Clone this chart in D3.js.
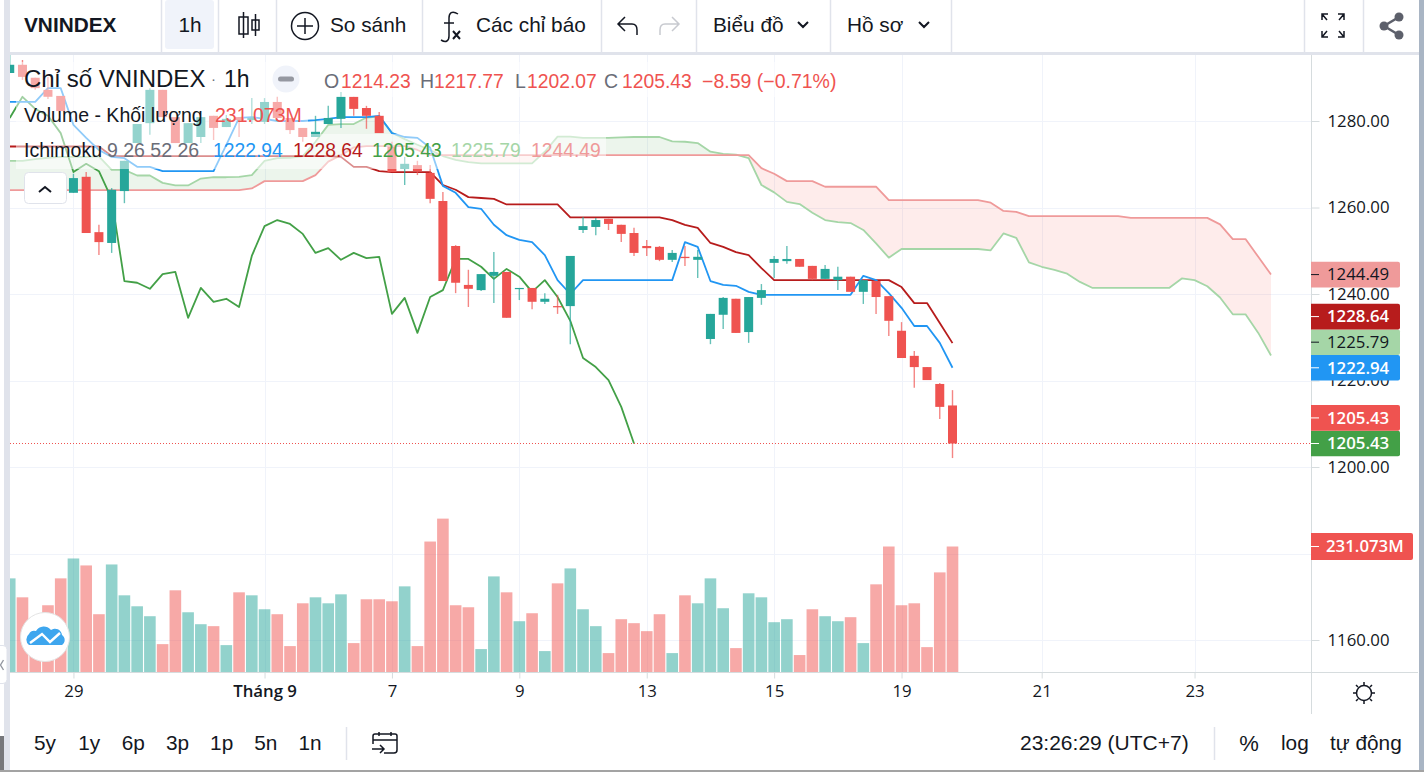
<!DOCTYPE html>
<html>
<head>
<meta charset="utf-8">
<style>
  html, body { margin: 0; padding: 0; background: #fff; overflow: hidden; }
  text { font-family: "Liberation Sans", Arial, sans-serif; }
  .axis text { font-family: "Open Sans", sans-serif; fill: #131722; }
</style>
<script src="https://cdn.jsdelivr.net/npm/d3@7"></script>
</head>
<body>
<script>
// candles, one per hour bar
var opens = [1291.1,1293.0,1290.0,1287.2,1285.8,1263.4,1267.1,1254.3,1251.8,1263.8,
  1274.9,1279.5,1287.2,1280.9,1274.9,1276.3,1281.2,1278.6,1280.9,1280.2,
  1279.8,1284.4,1280.7,1278.4,1276.3,1279.3,1280.5,1285.6,1283.0,1281.2,
  1274.0,1268.9,1269.8,1268.0,1261.5,1251.1,1242.1,1240.9,1244.2,1245.1,
  1241.2,1241.4,1238.2,1237.2,1237.2,1254.8,1255.5,1257.4,1256.0,1254.1,
  1251.1,1250.9,1247.9,1248.6,1247.9,1229.6,1235.2,1238.9,1231.2,1239.1,
  1247.2,1247.6,1248.1,1246.5,1243.5,1243.2,1244.0,1240.5,1243.0,1239.5,
  1231.5,1225.7,1223.1,1219.2,1214.23];
var highs = [1295.3,1294.1,1290.0,1290.2,1285.8,1267.8,1268.2,1256.0,1264.5,1270.8,
  1279.3,1287.6,1287.2,1280.9,1279.5,1280.9,1281.2,1281.4,1280.9,1285.3,
  1285.3,1285.6,1280.7,1278.4,1281.2,1283.5,1286.7,1285.6,1283.5,1282.1,
  1275.2,1271.7,1270.8,1269.8,1263.6,1251.3,1245.6,1244.6,1249.7,1245.1,
  1241.4,1241.4,1240.2,1239.8,1248.8,1257.8,1257.6,1257.4,1256.0,1255.3,
  1252.5,1251.1,1250.2,1251.1,1250.2,1235.4,1239.3,1238.9,1239.3,1242.3,
  1248.8,1251.1,1248.1,1246.5,1246.7,1246.3,1244.0,1243.2,1243.0,1239.5,
  1233.5,1226.8,1223.1,1219.4,1217.77];
var lows = [1291.1,1289.5,1287.2,1285.1,1282.3,1263.4,1254.1,1249.0,1249.5,1261.0,
  1274.9,1276.8,1280.9,1274.9,1274.9,1274.9,1275.6,1278.6,1276.3,1279.3,
  1279.3,1280.7,1277.0,1275.2,1276.3,1279.3,1278.4,1281.2,1278.2,1277.2,
  1268.2,1265.2,1267.5,1261.0,1243.0,1240.2,1237.0,1240.7,1237.9,1234.5,
  1238.6,1236.5,1237.7,1235.4,1228.4,1254.1,1253.6,1254.8,1252.0,1248.8,
  1248.8,1247.6,1247.4,1246.5,1243.7,1228.4,1231.9,1231.0,1228.7,1237.5,
  1243.7,1247.0,1246.3,1243.2,1243.5,1240.9,1240.5,1237.7,1235.4,1230.3,
  1225.2,1218.3,1220.1,1211.1,1202.07];
var closes = [1293.0,1290.2,1287.6,1285.6,1282.3,1266.8,1254.1,1252.0,1264.1,1270.8,
  1279.3,1287.2,1280.9,1274.9,1279.5,1280.9,1278.4,1280.5,1280.2,1280.7,
  1284.4,1280.7,1277.9,1276.3,1277.5,1280.7,1285.6,1282.8,1281.2,1277.2,
  1268.2,1270.1,1268.4,1262.0,1243.0,1242.6,1241.2,1244.6,1245.1,1234.5,
  1241.4,1238.2,1238.9,1237.0,1248.8,1255.7,1257.1,1256.2,1253.9,1249.5,
  1250.6,1247.9,1249.5,1248.3,1248.6,1235.4,1239.1,1231.0,1239.3,1240.9,
  1248.1,1248.1,1246.3,1243.5,1245.8,1244.0,1240.5,1243.2,1239.3,1233.8,
  1225.2,1223.1,1220.1,1213.9,1205.43];
// volume in millions
var volumes = [172.4,137.5,89,122.9,172.4,209,196.2,106.4,198,141.2,
  121,102.7,51.3,150.4,110,88,84.4,49.5,146.7,141.2,
  115.5,106.4,47.7,126.5,137.5,126.5,143,53.2,133.9,133.9,
  130.2,157.7,47.7,240.2,282.4,122.9,119.2,42.2,176,146.7,
  93.5,108.2,38.5,163.2,190.7,115.5,84.4,34.8,97.2,89.9,
  75.2,106.4,34.8,141.2,126.5,172.4,117.4,44,144.9,137.5,
  91.7,97.2,31.2,115.5,102.7,93.5,100.9,53.2,161.4,231.07,
  122.9,126.5,45.8,183.4,231.07];
// ichimoku lines
var tenkan = [1284.4,1284.4,1284.4,1287.6,1287.6,1279.1,1276.1,1273.3,1271.7,1271.4,
  1269.4,1269.4,1268.4,1268.4,1268.4,1268.4,1268.4,1274.5,1280.7,1280.9,
  1280.5,1280.0,1280.0,1280.0,1280.2,1280.5,1280.9,1280.9,1280.9,1281.2,
  1277.2,1276.3,1276.1,1273.8,1265.0,1263.4,1260.1,1259.7,1256.0,1253.6,
  1252.5,1252.0,1249.0,1243.2,1240.0,1243.2,1243.2,1243.2,1243.2,1243.2,
  1243.2,1243.2,1243.2,1252.0,1250.9,1243.0,1242.1,1241.9,1240.5,1239.8,
  1239.8,1239.8,1239.8,1239.8,1239.8,1239.8,1239.8,1244.2,1243.2,1240.2,
  1236.8,1232.6,1232.6,1228.7,1222.94];
var kijun = [1274.1,1274.1,1274.1,1274.1,1274.1,1274.1,1274.1,1274.1,1271.9,1271.9,
  1271.9,1271.9,1271.9,1271.9,1271.9,1271.9,1271.9,1271.9,1271.9,1271.9,
  1271.9,1271.9,1271.9,1271.9,1271.9,1271.9,1271.7,1269.4,1269.4,1268.4,
  1268.2,1268.2,1268.2,1268.2,1265.2,1264.1,1262.4,1262.2,1262.0,1260.7,
  1260.7,1260.7,1260.7,1260.7,1257.7,1257.7,1257.7,1257.7,1257.7,1257.7,
  1257.7,1257.7,1257.1,1256.0,1255.3,1251.8,1250.9,1249.7,1249.0,1246.0,
  1243.2,1243.2,1243.2,1243.2,1243.2,1243.2,1243.2,1243.2,1243.2,1243.2,
  1241.6,1237.9,1237.9,1233.3,1228.64];
var chikou = [1280.7,1285.6,1282.8,1281.2,1277.2,1268.2,1270.1,1268.4,1262.0,1243.0,
  1242.6,1241.2,1244.6,1245.1,1234.5,1241.4,1238.2,1238.9,1237.0,1248.8,
  1255.7,1257.1,1256.2,1253.9,1249.5,1250.6,1247.9,1249.5,1248.3,1248.6,
  1235.4,1239.1,1231.0,1239.3,1240.9,1248.1,1248.1,1246.3,1243.5,1245.8,
  1244.0,1240.5,1243.2,1239.3,1233.8,1225.2,1223.1,1220.1,1213.9,1205.43];
var senkouA = [1270.8,1270.8,1271.2,1271.5,1271.7,1271.7,1271.7,1271.8,1268.7,1268.7,
  1267.4,1267.4,1265.7,1265.1,1265.1,1266.7,1267.0,1267.0,1267.1,1267.5,
  1270.8,1271.4,1271.5,1271.9,1275.2,1279.1,1279.3,1279.3,1280.8,1281.0,
  1277.3,1275.8,1274.5,1273.3,1271.9,1271.0,1270.5,1270.2,1270.2,1270.2,
  1270.2,1270.2,1272.9,1276.4,1276.4,1276.1,1276.1,1276.1,1276.2,1276.3,
  1276.3,1276.3,1275.3,1275.2,1274.9,1272.9,1272.4,1272.2,1271.4,1265.2,
  1263.5,1261.3,1260.8,1258.8,1257.1,1256.6,1256.4,1254.8,1251.7,1248.4,
  1250.4,1250.4,1250.4,1250.4,1250.4,1250.4,1250.4,1250.1,1254.0,1253.0,
  1247.3,1246.3,1245.6,1244.7,1242.8,1241.4,1241.4,1241.4,1241.4,1241.4,
  1241.4,1241.4,1243.6,1243.2,1241.8,1239.2,1235.3,1235.3,1231.0,1225.79];
var senkouB = [1264.0,1264.0,1264.0,1264.0,1264.0,1264.0,1264.0,1264.0,1264.0,1264.0,
  1264.0,1264.0,1264.0,1264.0,1264.0,1264.0,1264.0,1264.0,1264.0,1264.4,
  1266.1,1266.1,1266.1,1266.1,1267.5,1270.6,1272.1,1273.9,1274.2,1274.2,
  1274.2,1274.2,1273.3,1272.1,1272.1,1272.1,1272.1,1272.1,1272.1,1272.1,
  1272.1,1272.1,1272.1,1272.1,1272.1,1272.1,1272.1,1272.1,1272.1,1272.1,
  1272.1,1272.1,1272.1,1272.1,1272.1,1272.1,1272.1,1272.1,1272.1,1269.1,
  1267.8,1266.1,1266.1,1266.1,1264.8,1264.8,1264.8,1264.8,1264.8,1261.7,
  1261.7,1261.7,1261.7,1261.7,1261.7,1261.7,1261.7,1261.1,1259.2,1259.0,
  1258.0,1258.0,1258.0,1258.0,1258.0,1258.0,1258.0,1258.0,1257.6,1257.6,
  1257.6,1257.6,1257.6,1257.6,1257.6,1256.1,1252.7,1252.7,1248.6,1244.49];
// axis ticks
var priceTicks = [1280, 1260, 1240, 1220, 1200, 1180, 1160];
var timeTickBars = [5, 20, 30, 40, 50, 60, 70, 81, 93];
var timeTickLabels = ["29", "Tháng 9", "7", "9", "13", "15", "19", "21", "23"];
// last values shown as tags on the price scale
var tagValues = [1205.43, 1205.43, 1222.94, 1225.79, 1228.64, 1244.49];
var tagFills = ["#43a047", "#ef5350", "#2196f3", "#a5d6a7", "#b71c1c", "#ef9a9a"];
var tagTexts = ["#fff", "#fff", "#fff", "#131722", "#fff", "#131722"];
var lastVolume = 231.073;
var rangeButtons = ["5y", "1y", "6p", "3p", "1p", "5n", "1n"];

var W = 1424, H = 772;
var plot = { left: 10, right: 1311, top: 55, bottom: 672 };
var green = "#26a69a", red = "#ef5350";

var svg = d3.select("body").append("svg").attr("width", W).attr("height", H).style("display", "block");

var x = d3.scaleLinear().domain([0, 99]).range([9.74, 1271]);
var y = d3.scaleLinear().domain([1160, 1280]).range([640, 121]);
var yVol = d3.scaleLinear().domain([0, lastVolume]).range([plot.bottom, 546.5]);

var defs = svg.append("defs");
defs.append("clipPath").attr("id", "plotClip").append("rect")
  .attr("x", plot.left).attr("y", plot.top)
  .attr("width", plot.right - plot.left).attr("height", plot.bottom - plot.top);

var bars = d3.range(opens.length), cloudBars = d3.range(senkouA.length);

// window edges
svg.append("rect").attr("x", 4).attr("y", 0).attr("width", 6).attr("height", H).attr("fill", "#e0e3eb");
svg.append("rect").attr("x", 0).attr("y", 736).attr("width", 4).attr("height", 36).attr("fill", "#77787b");
svg.append("rect").attr("x", 1419).attr("y", 0).attr("width", 5).attr("height", H).attr("fill", "#a9b5c4");
svg.append("rect").attr("x", 0).attr("y", 770).attr("width", W).attr("height", 2).attr("fill", "#a3a3a3");

// grid
var grid = svg.append("g").attr("stroke", "#f0f3fa").attr("stroke-width", 1);
grid.selectAll("line.h").data(priceTicks).enter().append("line").attr("class", "h")
  .attr("x1", plot.left).attr("x2", plot.right)
  .attr("y1", function(d) { return Math.round(y(d)) + 0.5; })
  .attr("y2", function(d) { return Math.round(y(d)) + 0.5; });
grid.selectAll("line.v").data(timeTickBars).enter().append("line").attr("class", "v")
  .attr("y1", plot.top).attr("y2", plot.bottom)
  .attr("x1", function(d) { return Math.round(x(d)) + 0.5; })
  .attr("x2", function(d) { return Math.round(x(d)) + 0.5; });

var chart = svg.append("g").attr("clip-path", "url(#plotClip)");

// volume bars
chart.append("g").selectAll("rect").data(bars).enter().append("rect")
  .attr("x", function(i) { return x(i) - 5.8; })
  .attr("width", 11.6)
  .attr("y", function(i) { return yVol(volumes[i]); })
  .attr("height", function(i) { return plot.bottom - yVol(volumes[i]); })
  .attr("fill", function(i) { return closes[i] >= opens[i] ? green : red; })
  .attr("fill-opacity", 0.5);

// cloud, split along senkou B so that each side takes its colour
var aboveB = d3.area().x(function(i) { return x(i); }).y0(0).y1(function(i) { return y(senkouB[i]); });
var belowB = d3.area().x(function(i) { return x(i); }).y0(H).y1(function(i) { return y(senkouB[i]); });
defs.append("clipPath").attr("id", "aboveB").append("path").attr("d", aboveB(cloudBars));
defs.append("clipPath").attr("id", "belowB").append("path").attr("d", belowB(cloudBars));
var cloud = d3.area().x(function(i) { return x(i); })
  .y0(function(i) { return y(senkouA[i]); })
  .y1(function(i) { return y(senkouB[i]); });
chart.append("g").attr("clip-path", "url(#aboveB)").append("path")
  .attr("d", cloud(cloudBars)).attr("fill", "#43a047").attr("fill-opacity", 0.1);
chart.append("g").attr("clip-path", "url(#belowB)").append("path")
  .attr("d", cloud(cloudBars)).attr("fill", "#f44336").attr("fill-opacity", 0.1);

function addLine(values, color) {
  var line = d3.line().x(function(d, i) { return x(i); }).y(function(d) { return y(d); });
  chart.append("path").attr("d", line(values)).attr("fill", "none")
    .attr("stroke", color).attr("stroke-width", 1.8).attr("stroke-linejoin", "round");
}
addLine(senkouA, "#a5d6a7");
addLine(senkouB, "#ef9a9a");
addLine(chikou, "#43a047");
addLine(kijun, "#b71c1c");
addLine(tenkan, "#2196f3");

// candles
var candleColor = function(i) { return closes[i] >= opens[i] ? green : red; };
chart.append("g").selectAll("line").data(bars).enter().append("line")
  .attr("x1", function(i) { return x(i); }).attr("x2", function(i) { return x(i); })
  .attr("y1", function(i) { return y(highs[i]); }).attr("y2", function(i) { return y(lows[i]); })
  .attr("stroke", candleColor).attr("stroke-width", 1.4).attr("stroke-opacity", 0.7);
chart.append("g").selectAll("rect").data(bars).enter().append("rect")
  .attr("x", function(i) { return x(i) - 4.5; })
  .attr("width", 9)
  .attr("y", function(i) { return Math.min(y(opens[i]), y(closes[i])); })
  .attr("height", function(i) { return Math.max(1.2, Math.abs(y(opens[i]) - y(closes[i]))); })
  .attr("fill", candleColor);

// last price line
svg.append("line").attr("x1", plot.left).attr("x2", plot.right)
  .attr("y1", y(closes[closes.length - 1])).attr("y2", y(closes[closes.length - 1]))
  .attr("stroke", "#ef5350").attr("stroke-width", 1).attr("stroke-dasharray", "1,2");

// price scale
var priceAxis = d3.axisRight(y).tickValues(priceTicks).tickSize(8).tickPadding(8)
  .tickFormat(function(d) { return d === 1180 ? "" : d3.format(".2f")(d); });
var gPrice = svg.append("g").attr("class", "axis").attr("transform", "translate(" + (plot.right + 0.5) + ",0)").call(priceAxis);
gPrice.select(".domain").remove();
gPrice.selectAll("line").attr("stroke", "#d6dcde");
gPrice.selectAll("text").attr("font-size", 16.8);

// time scale
var timeAxis = d3.axisBottom(x).tickValues(timeTickBars).tickSize(6).tickPadding(7)
  .tickFormat(function(d, i) { return timeTickLabels[i]; });
var gTime = svg.append("g").attr("class", "axis").attr("transform", "translate(0," + (plot.bottom + 0.5) + ")").call(timeAxis);
gTime.select(".domain").remove();
gTime.selectAll("line").attr("stroke", "#d6dcde");
gTime.selectAll("text").attr("font-size", 16.8).attr("font-weight", function(d, i) { return i === 1 ? 600 : 400; });
svg.append("line").attr("x1", plot.left).attr("x2", 1418).attr("y1", 672.5).attr("y2", 672.5).attr("stroke", "#d6dcde");
svg.append("line").attr("x1", plot.right + 0.5).attr("x2", plot.right + 0.5).attr("y1", plot.top).attr("y2", 714).attr("stroke", "#d6dcde");

// tags stack upwards when they would overlap
var tagH = 25.6, tagY = [];
tagValues.forEach(function(v, k) {
  tagY[k] = k === 0 ? y(v) : Math.min(y(v), tagY[k - 1] - tagH);
});
var tags = svg.append("g").selectAll("g").data(tagValues).enter().append("g")
  .attr("transform", function(d, k) { return "translate(" + plot.right + "," + tagY[k] + ")"; });
tags.append("path")
  .attr("d", "M0," + (-tagH / 2) + "H87a2,2 0 0 1 2,2V" + (tagH / 2 - 2) + "a2,2 0 0 1 -2,2H0Z")
  .attr("fill", function(d, k) { return tagFills[k]; });
tags.append("line").attr("x1", 0).attr("x2", 8).attr("stroke", function(d, k) { return tagTexts[k]; });
tags.append("text").attr("x", 16).attr("dy", "0.35em").attr("font-size", 16.8)
  .style("font-family", "'Open Sans', sans-serif")
  .attr("font-weight", function(d, k) { return tagTexts[k] === "#fff" ? 600 : 400; })
  .attr("fill", function(d, k) { return tagTexts[k]; })
  .text(function(d) { return d3.format(".2f")(d); });

var volTag = svg.append("g").attr("transform", "translate(" + plot.right + "," + yVol(lastVolume) + ")");
volTag.append("path").attr("d", "M0,-13.5H100a2,2 0 0 1 2,2V11.5a2,2 0 0 1 -2,2H0Z").attr("fill", red);
volTag.append("line").attr("x1", 0).attr("x2", 8).attr("stroke", "#fff");
volTag.append("text").attr("x", 15).attr("dy", "0.35em").attr("font-size", 16.8).attr("font-weight", 600)
  .style("font-family", "'Open Sans', sans-serif").attr("fill", "#fff").text(lastVolume + "M");

// legend, faint panels over the chart
var panels = [[16, 62, 824, 35], [16, 97, 292, 37], [16, 134, 590, 35]];
svg.append("g").selectAll("rect").data(panels).enter().append("rect")
  .attr("x", function(d) { return d[0]; }).attr("y", function(d) { return d[1]; })
  .attr("width", function(d) { return d[2]; }).attr("height", function(d) { return d[3]; })
  .attr("fill", "#fff").attr("fill-opacity", 0.5);

function label(px, py, str, size, color, anchor, weight) {
  return svg.append("text").attr("x", px).attr("y", py).attr("dy", "0.35em")
    .attr("font-size", size).attr("fill", color)
    .attr("text-anchor", anchor || "start").attr("font-weight", weight || 400).text(str);
}
var ink = "#131722", muted = "#6a6d78";
label(24, 79, "Chỉ số VNINDEX", 24, ink);
label(211, 79, "·", 15, muted);
label(224, 79, "1h", 23, ink);
svg.append("circle").attr("cx", 286).attr("cy", 79).attr("r", 13.5).attr("fill", "#f0f3fa");
svg.append("rect").attr("x", 278).attr("y", 76.5).attr("width", 16).attr("height", 5).attr("rx", 2.5).attr("fill", "#9598a1");
label(324, 81, "O", 19.5, muted); label(341, 81, "1214.23", 19.3, red);
label(420, 81, "H", 19.5, muted); label(434, 81, "1217.77", 19.3, red);
label(515, 81, "L", 19.5, muted); label(527, 81, "1202.07", 19.3, red);
label(604, 81, "C", 19.5, muted); label(622, 81, "1205.43", 19.3, red);
label(702, 81, "−8.59 (−0.71%)", 19.5, red);
label(24, 115, "Volume - Khối lượng", 19.5, ink);
label(215, 115, "231.073M", 19.5, red);
label(24, 150, "Ichimoku", 19.5, ink);
label(107, 150, "9 26 52 26", 19.5, muted);
label(213, 150, "1222.94", 19.3, "#2196f3");
label(293, 150, "1228.64", 19.3, "#b71c1c");
label(372, 150, "1205.43", 19.3, "#43a047");
label(451, 150, "1225.79", 19.3, "#a5d6a7");
label(531, 150, "1244.49", 19.3, "#ef9a9a");

// collapse button under the legend
svg.append("rect").attr("x", 24.5).attr("y", 172.5).attr("width", 42).attr("height", 31).attr("rx", 4)
  .attr("fill", "#fff").attr("stroke", "#e0e3eb");
svg.append("path").attr("d", "M39,192l6,-5l6,5").attr("fill", "none").attr("stroke", ink).attr("stroke-width", 2);

// logo badge
var logo = svg.append("g").attr("transform", "translate(45,637)");
logo.append("circle").attr("r", 24.5).attr("fill", "#fff").attr("stroke", "#e4e4e4").attr("stroke-width", 1);
logo.append("path").attr("d", "M-16,8a7,7 0 0 1 0,-11a6,6 0 0 1 7,-3a9,9 0 0 1 15,-1a7,7 0 0 1 11,5a6,6 0 0 1 0,10Z").attr("fill", "#3ea6ee");
logo.append("path").attr("d", "M-15,6L-3,-3L5,5L15,-4").attr("fill", "none").attr("stroke", "#fff").attr("stroke-width", 2.4);

// side handle on the left edge
svg.append("rect").attr("x", -6).attr("y", 645.5).attr("width", 13).attr("height", 38).attr("rx", 4).attr("fill", "#fff").attr("stroke", "#e0e3eb");
svg.append("path").attr("d", "M3.5,660l-3,5l3,5").attr("fill", "none").attr("stroke", "#9598a1").attr("stroke-width", 1.4);

// top toolbar
svg.append("rect").attr("x", 4).attr("y", 52).attr("width", 1415).attr("height", 3).attr("fill", "#e0e3eb");
svg.append("rect").attr("x", 165).attr("y", 0).attr("width", 49).attr("height", 49).attr("rx", 3).attr("fill", "#f0f3fa");
var topSeps = [161, 218, 276, 422, 601, 696, 830, 951, 1304, 1363];
svg.append("g").selectAll("line").data(topSeps).enter().append("line")
  .attr("x1", function(d) { return d + 0.5; }).attr("x2", function(d) { return d + 0.5; })
  .attr("y1", 0).attr("y2", 52).attr("stroke", "#e0e3eb").attr("stroke-width", 1.5);
label(24, 25, "VNINDEX", 20.8, ink, "start", 700);
label(190, 25, "1h", 20.8, ink, "middle");
label(330, 25, "So sánh", 20.8, ink);
label(476, 25, "Các chỉ báo", 20.8, ink);
label(713, 25, "Biểu đồ", 20.8, ink);
label(847, 25, "Hồ sơ", 20.8, ink);

var icons = svg.append("g").attr("fill", "none").attr("stroke", ink).attr("stroke-width", 1.5);
icons.append("path").attr("d", "M243.5,12V38M239,17h9v17h-9ZM255.5,14V36M252,20h7v10h-7Z");
icons.append("circle").attr("cx", 305).attr("cy", 26).attr("r", 13.5);
icons.append("path").attr("d", "M305,18V34M297,26H313");
icons.append("path").attr("d", "M458,14c-6,-4 -9,-1 -9,4V36c0,5 -3,7 -8,4M444,23H454");
icons.append("path").attr("d", "M453,31l7,8M460,31l-7,8").attr("stroke-width", 2);
icons.append("path").attr("d", "M625,17l-7,7l7,7M618,24H632q5,0 5,6V35");
icons.append("path").attr("d", "M672,17l7,7l-7,7M679,24H665q-5,0 -5,6V35").attr("stroke", "#c8cad0");
icons.append("path").attr("d", "M798,22l5,5l5,-5M919,22l5,5l5,-5").attr("stroke-width", 2);
icons.append("path").attr("d", "M1322,20V14H1328M1322,14l5,6M1344,20V14H1338M1344,14l-5,6M1322,31V37H1328M1322,37l5,-6M1344,31V37H1338M1344,37l-5,-6");
var share = svg.append("g").attr("fill", "#5d606b");
[[1399, 17], [1384, 26], [1399, 35]].forEach(function(p) {
  share.append("circle").attr("cx", p[0]).attr("cy", p[1]).attr("r", 4.5);
});
svg.append("path").attr("d", "M1399,17L1384,26L1399,35").attr("fill", "none").attr("stroke", "#5d606b").attr("stroke-width", 2.5);

// bottom toolbar
var rangeX = d3.scalePoint().domain(rangeButtons).range([45, 310]);
svg.append("g").selectAll("text").data(rangeButtons).enter().append("text")
  .attr("x", function(d) { return rangeX(d); }).attr("y", 743).attr("dy", "0.35em")
  .attr("text-anchor", "middle").attr("font-size", 20.8).attr("fill", ink).text(function(d) { return d; });
svg.append("line").attr("x1", 346.5).attr("x2", 346.5).attr("y1", 727).attr("y2", 760).attr("stroke", "#e0e3eb").attr("stroke-width", 1.5);
svg.append("line").attr("x1", 1214.5).attr("x2", 1214.5).attr("y1", 727).attr("y2", 760).attr("stroke", "#e0e3eb").attr("stroke-width", 1.5);
icons.append("path").attr("d", "M373,744V736q0,-2 2,-2H395q2,0 2,2V750q0,3 -3,3H384M373,740H397M379,732v4M391,732v4M372,749H384M380,745l4,4l-4,4");
label(1020, 743, "23:26:29 (UTC+7)", 21, ink);
label(1249, 743, "%", 22, ink, "middle");
label(1281, 743, "log", 20.8, ink);
label(1330, 743, "tự động", 20.8, ink);

// sun icon in the scale corner
icons.append("circle").attr("cx", 1364).attr("cy", 693).attr("r", 7.5);
icons.append("path").attr("d", "M1364,682V685M1364,701V704M1353,693H1356M1372,693H1375M1356,685l2,2M1370,699l2,2M1372,685l-2,2M1358,699l-2,2");
</script>
</body>
</html>
